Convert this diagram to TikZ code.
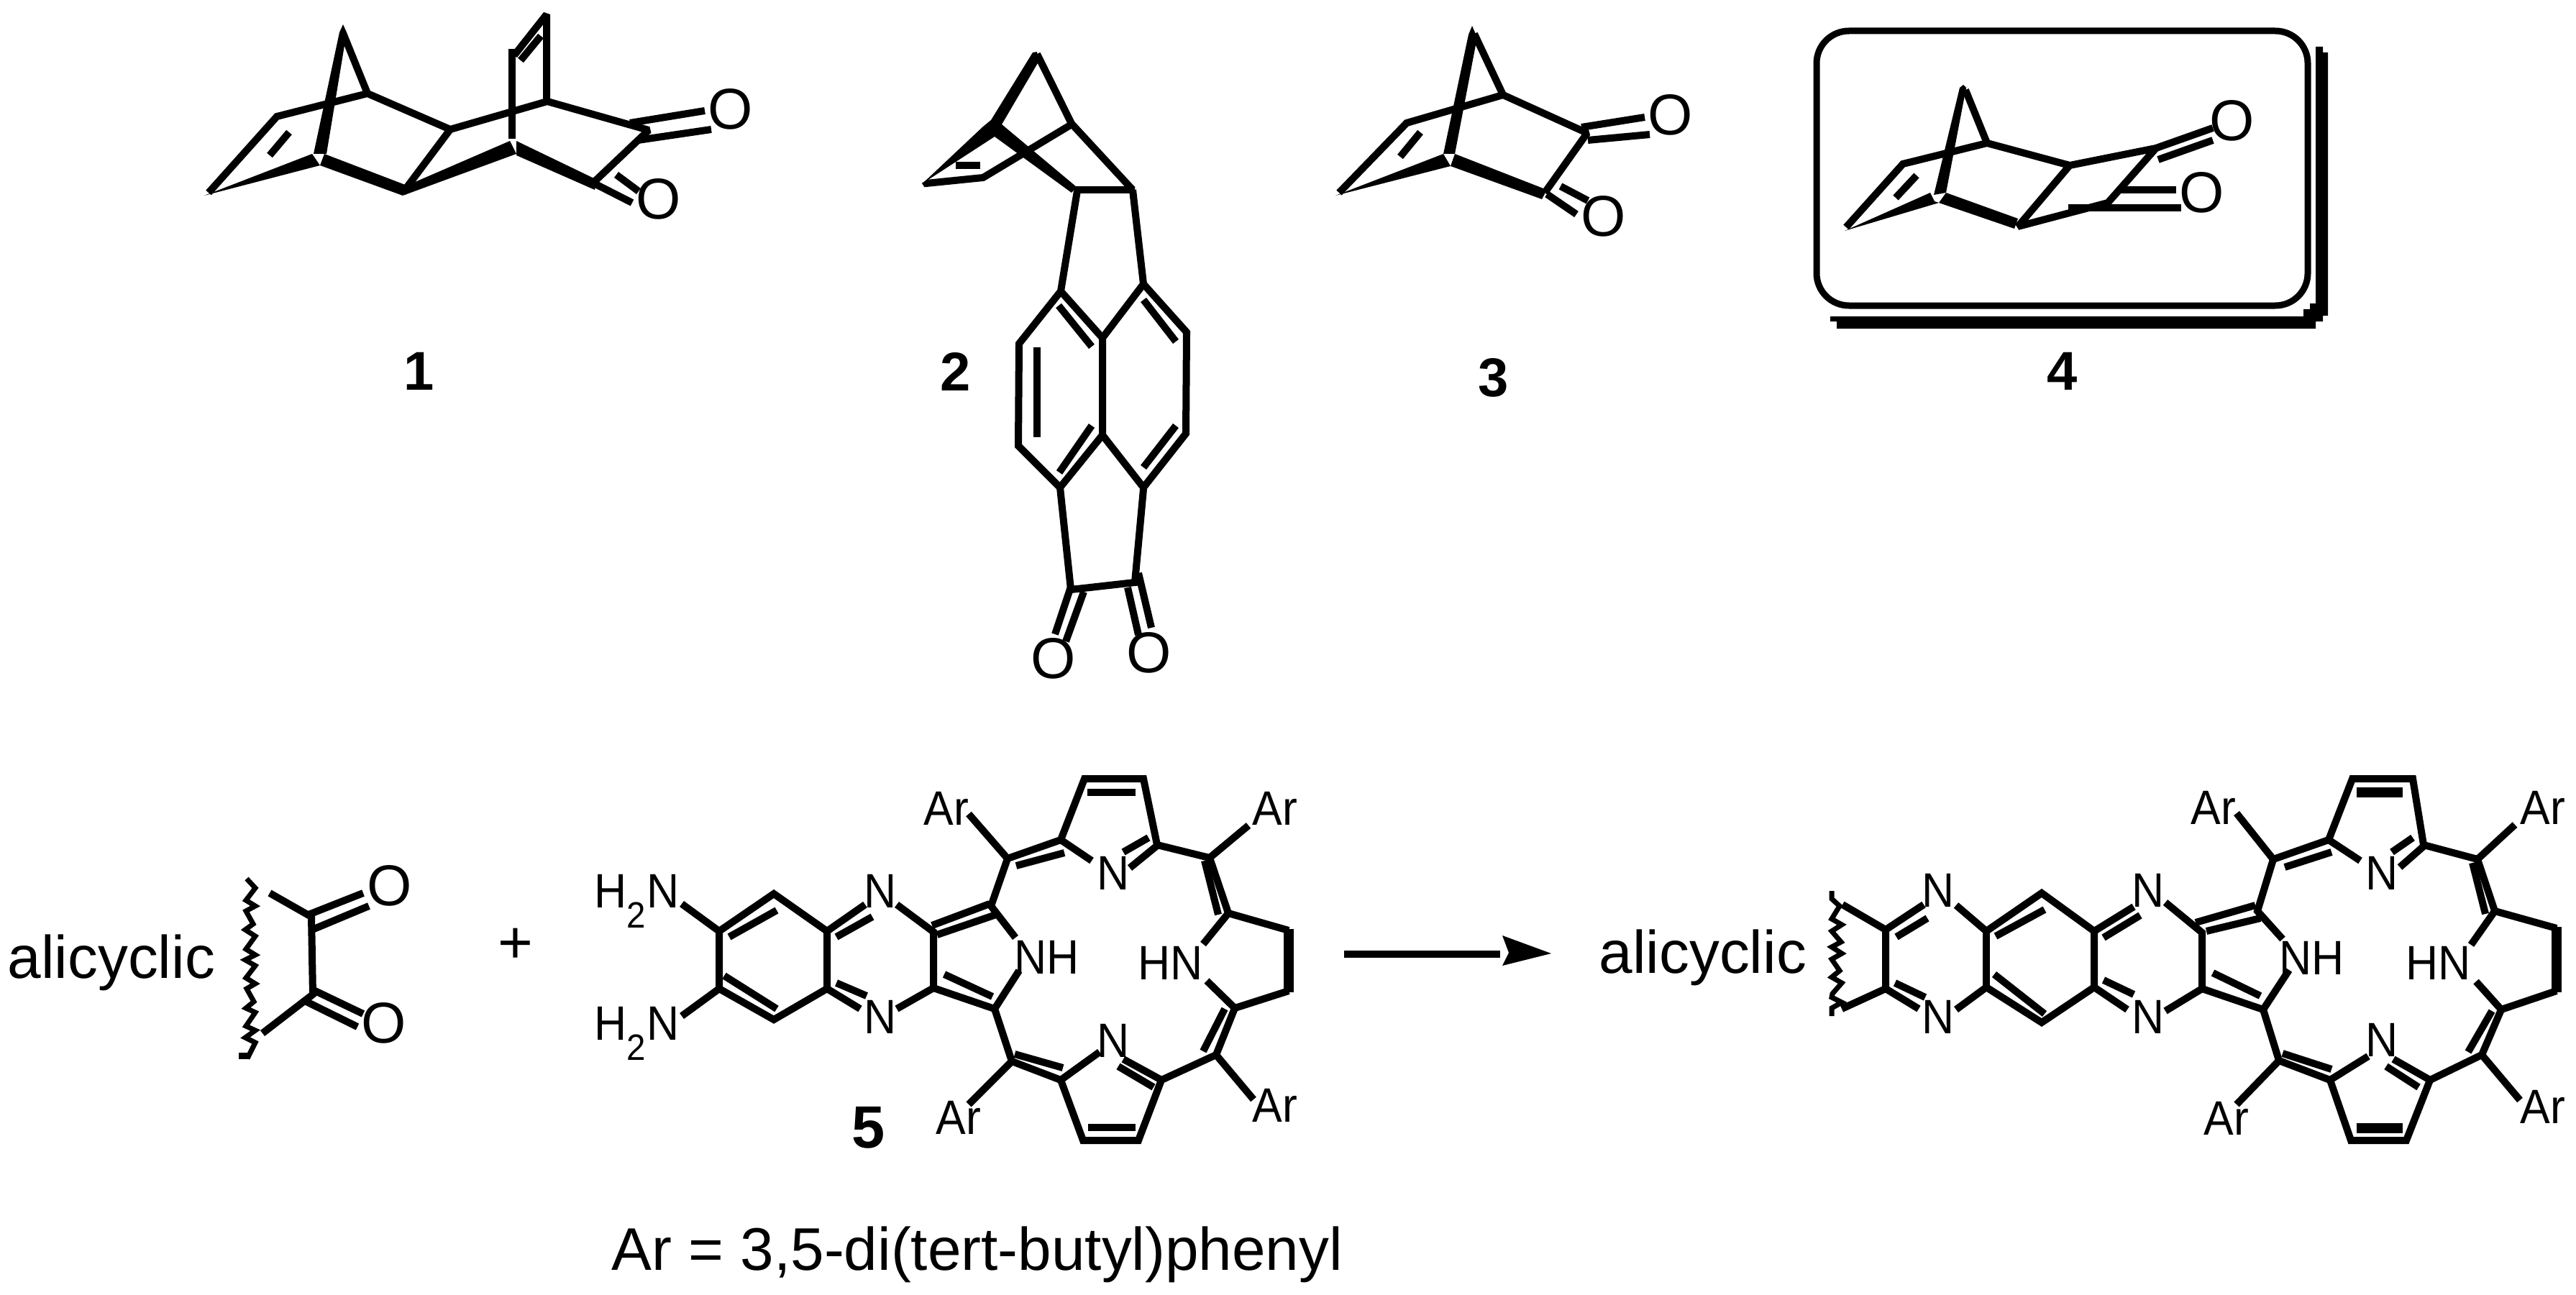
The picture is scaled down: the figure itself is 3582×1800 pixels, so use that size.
\documentclass[tikz,border=0pt]{standalone}
\usepackage{fontspec}
\setmainfont{Liberation Sans}
\newfontfamily\atomfont[FakeStretch=0.93]{Liberation Sans}
\tikzset{
  bond/.style={draw=black,line width=0.1cm,line cap=butt,line join=miter,miter limit=1.5},
  fat/.style={bond,line width=0.14cm},
  wave/.style={draw=black,line width=0.07cm,line join=miter,miter limit=3},
  wedge/.style={fill=black,draw=none},
  atomO/.style={inner sep=0pt,font=\fontsize{22.8pt}{24pt}\selectfont},
  atom/.style={inner sep=0pt,font=\atomfont\fontsize{19.1pt}{20pt}\selectfont},
  word/.style={inner sep=0pt,font=\fontsize{23.8pt}{25pt}\selectfont},
  num/.style={inner sep=0pt,font=\fontsize{21.6pt}{24pt}\selectfont\bfseries},
}
\newcommand{\Hsub}{H\raisebox{-8pt}{\fontsize{14.5pt}{15pt}\selectfont 2}\kern0.5ptN}
\begin{document}
\begin{tikzpicture}[x=0.01cm,y=-0.01cm]
\useasboundingbox (0,0) rectangle (3582,1800);
% ---------- compound 1
\fill[wedge] (284,272)--(434,214)--(445,230)--cycle;
\fill[wedge] (451,214)--(445,230)--(560,272)--(566,258)--cycle;
\fill[wedge] (568,257)--(709,196)--(718,214)--(560,272)--cycle;
\fill[wedge] (718,196)--(718,216)--(827,264)--(830,250)--cycle;
\fill[wedge] (477,34)--(472,45)--(436,214)--(454,214)--(482,45)--cycle;
\draw[bond] (290,268)--(385,162)--(511,130)--(626,180)--(761,141)--(902,181)--(824,255);
\draw[bond] (511,130)--(477,46);
\draw[bond] (560,268)--(626,180);
\draw[bond] (712,193)--(712,68);
\draw[bond] (715,77)--(760,20)--(760,141);
\draw[bond] (724,84)--(752,50);
\draw[bond] (402,184)--(375,216);
\draw[bond] (876,171)--(980,154);
\draw[bond] (887,195)--(989,180);
\draw[bond] (824,254)--(879,282);
\draw[bond] (857,243)--(888,266);
\node[atomO] (o1a) at (1016,152) {O};
\node[atomO] (o1b) at (916,277) {O};
\node[num] (n1) at (583,516) {1};
% ---------- compound 2
\fill[wedge] (1442,72)--(1436,73)--(1378,167)--(1367,176)--(1283,255)--(1383,190)--(1490,268)--(1497,260)--(1393,173)--(1444,86)--cycle;
\draw[bond] (1442,75)--(1490,172)--(1575,264);
\draw[bond] (1286,252)--(1288,255)--(1367,247)--(1490,173);
\draw[bond] (1329,230)--(1363,230);
\draw[bond] (1493,264)--(1578,264);
\draw[bond] (1498,265)--(1475,405)--(1417,478)--(1416,620)--(1474,678)--(1533,605)--(1533,470)--(1475,405);
\draw[bond] (1575,264)--(1590,395)--(1533,470);
\draw[bond] (1590,395)--(1650,462)--(1649,603)--(1590,678)--(1533,605);
\draw[bond] (1472,425)--(1518,482);
\draw[bond] (1590,417)--(1635,475);
\draw[bond] (1442,483)--(1442,608);
\draw[bond] (1518,592)--(1473,657);
\draw[bond] (1635,592)--(1590,650);
\draw[bond] (1474,678)--(1489,820)--(1578,810)--(1590,680);
\draw[bond] (1490,813)--(1467,882);
\draw[bond] (1507,823)--(1482,892);
\draw[bond] (1568,817)--(1583,883);
\draw[bond] (1583,797)--(1601,873);
\node[atomO] (o2a) at (1465,916) {O};
\node[atomO] (o2b) at (1598,908) {O};
\node[num] (n2) at (1329,517) {2};
% ---------- compound 3
\fill[wedge] (1857,272)--(2007,214)--(2017,231)--cycle;
\fill[wedge] (2023,214)--(2017,231)--(2144,277)--(2151,264)--cycle;
\fill[wedge] (2047,36)--(2042,48)--(2007,214)--(2023,214)--(2054,52)--cycle;
\draw[bond] (1862,268)--(1956,171)--(2090,132)--(2207,185)--(2148,268);
\draw[bond] (2090,132)--(2050,47);
\draw[bond] (1975,184)--(1947,218);
\draw[bond] (2199,177)--(2287,163);
\draw[bond] (2208,195)--(2294,187);
\draw[bond] (2151,270)--(2192,298);
\draw[bond] (2170,259)--(2208,279);
\node[atomO] (o3a) at (2323,160) {O};
\node[atomO] (o3b) at (2230,301) {O};
\node[num] (n3) at (2077,525) {3};
% ---------- compound 4
\fill[black] (2545,440)--(3203,440)--(3203,430)--(3212,430)--(3212,422)--(3220,422)--(3220,65)--(3230,65)--(3230,73)--(3237,73)--(3237,439)--(3230,439)--(3230,447)--(3220,447)--(3220,457)--(2554,457)--(2554,447)--(2545,447)--cycle;
\draw[line width=0.09cm,rounded corners=0.45cm] (2526,43) rectangle (3209,425);
\fill[wedge] (2565,321)--(2684,268)--(2690,280)--(2696,282)--cycle;
\fill[wedge] (2706,268)--(2696,282)--(2801,318)--(2806,304)--cycle;
\fill[wedge] (2730,118)--(2725,122)--(2689,271)--(2706,268)--(2734,122)--cycle;
\draw[bond] (2567,316)--(2646,228)--(2763,199)--(2878,230)--(2998,206)--(2931,282)--(2806,315)--(2878,230);
\draw[bond] (2763,199)--(2733,125);
\draw[bond] (2665,244)--(2636,275);
\draw[bond] (2998,206)--(3077,178);
\draw[bond] (3001,222)--(3077,195);
\draw[bond] (2945,264)--(3026,264);
\draw[bond] (2876,289)--(3033,289);
\node[atomO] (o4a) at (3104,168) {O};
\node[atomO] (o4b) at (3062,268) {O};
\node[num] (n4) at (2868,516) {4};
% ---------- diketone
\node[word,anchor=base west] (alicA) at (10,1360) {alicyclic};
\draw[wave] (343,1222)--(355,1235)--(342,1252)--(355,1260)--(342,1267)--(352,1285)--(341,1293)--(355,1302)--(342,1320)--(355,1328)--(341,1335)--(355,1343)--(342,1360)--(355,1368)--(343,1375)--(353,1393)--(342,1402)--(355,1408)--(342,1427)--(355,1433)--(341,1443)--(355,1450)--(344,1472);
\fill (332,1464) rectangle (345,1473);
\draw[bond] (375,1242)--(433,1275)--(435,1383)--(365,1437);
\draw[bond] (429,1272)--(505,1242);
\draw[bond] (434,1293)--(513,1260);
\draw[bond] (436,1377)--(505,1410);
\draw[bond] (426,1393)--(497,1428);
\node[atomO] (o5a) at (542,1232) {O};
\node[atomO] (o5b) at (534,1423) {O};
\node[word] (plus) at (717,1315) {+};
% ---------- compound 5 (reactant)
\draw[bond] (1000,1295)--(1076,1243)--(1150,1295)--(1150,1375)--(1076,1418)--(1000,1375)--cycle;
\draw[bond] (1014,1303)--(1080,1266);
\draw[bond] (1007,1357)--(1080,1403);
\draw[bond] (948,1257)--(1000,1295);
\draw[bond] (948,1413)--(1000,1375);
\node[atom,anchor=base west] (h2a) at (826,1262) {\Hsub};
\node[atom,anchor=base west] (h2b) at (826,1446) {\Hsub};
\node[atom,anchor=base] (na) at (1224,1262) {N};
\node[atom,anchor=base] (nb) at (1224,1437) {N};
\draw[bond] (1150,1295)--(1203,1258);
\draw[bond] (1163,1303)--(1213,1275);
\draw[bond] (1150,1375)--(1196,1403);
\draw[bond] (1163,1367)--(1205,1385);
\draw[bond] (1247,1258)--(1298,1296)--(1298,1374)--(1247,1403);
\draw[bond] (1296,1287)--(1376,1257);
\draw[bond] (1303,1300)--(1385,1272);
\draw[bond] (1412,1304)--(1378,1260)--(1401,1194)--(1475,1168)--(1508,1083)--(1590,1083)--(1609,1175)--(1682,1193)--(1708,1270)--(1792,1294);
\draw[bond] (1298,1374)--(1383,1403)--(1417,1350);
\draw[bond] (1313,1355)--(1380,1386);
\node[atom,anchor=base west] (nha) at (1410,1354) {NH};
\draw[bond] (1401,1194)--(1347,1132);
\node[atom,anchor=base west] (ara) at (1284,1147) {Ar};
\draw[bond] (1413,1204)--(1480,1186);
\draw[bond] (1512,1102)--(1579,1102);
\draw[bond] (1475,1168)--(1518,1197);
\node[atom,anchor=base] (nc) at (1548,1237) {N};
\draw[bond] (1562,1185)--(1597,1165);
\draw[bond] (1571,1207)--(1609,1176);
\draw[bond] (1682,1193)--(1736,1148);
\node[atom,anchor=base west] (arb) at (1741,1147) {Ar};
\draw[bond] (1675,1197)--(1694,1272);
\draw[fat] (1792,1292)--(1792,1380);
\draw[bond] (1708,1270)--(1673,1313);
\node[atom,anchor=base west] (hna) at (1582,1362) {HN};
\draw[bond] (1678,1364)--(1717,1402)--(1792,1378);
\draw[bond] (1717,1402)--(1691,1467)--(1615,1502)--(1583,1586)--(1506,1586)--(1475,1502)--(1407,1476)--(1383,1403);
\draw[bond] (1673,1462)--(1703,1403);
\draw[bond] (1691,1467)--(1743,1529);
\node[atom,anchor=base west] (arc) at (1741,1560) {Ar};
\draw[bond] (1615,1502)--(1562,1473);
\draw[bond] (1604,1512)--(1555,1483);
\node[atom,anchor=base] (nd) at (1548,1470) {N};
\draw[bond] (1529,1463)--(1475,1502);
\draw[bond] (1513,1568)--(1579,1568);
\draw[bond] (1411,1466)--(1478,1485);
\draw[bond] (1407,1476)--(1347,1536);
\node[atom,anchor=base west] (ard) at (1301,1577) {Ar};
\node[num,font=\fontsize{23.6pt}{25pt}\selectfont\bfseries] (n5) at (1208,1568) {5};
\node[word,anchor=base west] (note) at (850,1766) {Ar = 3,5-di(tert-butyl)phenyl};
% ---------- arrow
\coordinate (arS) at (1869,1327);
\coordinate (arE) at (2086,1327);
\draw[bond] (arS)--(arE);
\fill (2089,1301)--(2157,1326)--(2089,1343)--(2098,1325)--cycle;
% ---------- product
\node[word,anchor=base west] (alicB) at (2223,1353) {alicyclic};
\draw[wave] (2547,1239)--(2547,1250)--(2558,1260)--(2547,1278)--(2561,1286)--(2547,1295)--(2560,1310)--(2547,1317)--(2561,1326)--(2547,1334)--(2558,1350)--(2547,1359)--(2561,1367)--(2548,1382)--(2547,1387)--(2561,1394)--(2547,1402)--(2547,1413);
\draw[bond] (2562,1258)--(2622,1293)--(2622,1375)--(2561,1403);
\draw[bond] (2622,1293)--(2675,1258);
\draw[bond] (2637,1303)--(2680,1277);
\draw[bond] (2622,1375)--(2668,1403);
\draw[bond] (2635,1367)--(2677,1387);
\node[atom,anchor=base] (ne) at (2695,1261) {N};
\node[atom,anchor=base] (nf) at (2695,1437) {N};
\draw[bond] (2720,1259)--(2762,1295)--(2839,1242)--(2912,1295)--(2912,1373)--(2839,1422)--(2762,1373)--(2720,1404);
\draw[bond] (2762,1295)--(2762,1373);
\draw[bond] (2775,1302)--(2843,1265);
\draw[bond] (2773,1355)--(2843,1410);
\draw[bond] (2912,1295)--(2967,1261);
\draw[bond] (2925,1304)--(2976,1273);
\draw[bond] (2912,1373)--(2958,1404);
\draw[bond] (2925,1363)--(2967,1383);
\node[atom,anchor=base] (ng) at (2987,1261) {N};
\node[atom,anchor=base] (nh) at (2987,1437) {N};
\draw[bond] (3011,1255)--(3062,1297)--(3062,1375)--(3011,1406);
\draw[bond] (3053,1283)--(3136,1259);
\draw[bond] (3068,1295)--(3143,1277);
\draw[bond] (3174,1306)--(3139,1267)--(3161,1195)--(3238,1168)--(3271,1083)--(3355,1083)--(3370,1175)--(3445,1195)--(3469,1267)--(3555,1291);
\draw[bond] (3062,1375)--(3147,1404)--(3183,1349);
\draw[bond] (3077,1353)--(3143,1385);
\node[atom,anchor=base west] (nhb) at (3169,1355) {NH};
\draw[bond] (3161,1195)--(3110,1131);
\node[atom,anchor=base west] (are) at (3046,1146) {Ar};
\draw[bond] (3177,1206)--(3242,1185);
\draw[fat] (3277,1102)--(3341,1102);
\draw[bond] (3238,1168)--(3282,1197);
\node[atom,anchor=base] (ni) at (3312,1237) {N};
\draw[bond] (3337,1206)--(3370,1177);
\draw[bond] (3326,1185)--(3355,1165);
\draw[bond] (3445,1195)--(3497,1147);
\node[atom,anchor=base west] (arf) at (3504,1146) {Ar};
\draw[bond] (3438,1200)--(3456,1271);
\draw[fat] (3555,1289)--(3555,1380);
\draw[bond] (3469,1267)--(3436,1314);
\node[atom,anchor=base west] (hnb) at (3345,1362) {HN};
\draw[bond] (3443,1365)--(3478,1404)--(3555,1378);
\draw[bond] (3478,1404)--(3451,1467)--(3379,1502)--(3346,1586)--(3269,1586)--(3240,1502)--(3169,1475)--(3147,1404);
\draw[bond] (3432,1463)--(3465,1406);
\draw[bond] (3451,1467)--(3504,1530);
\node[atom,anchor=base west] (arg) at (3504,1562) {Ar};
\draw[bond] (3379,1502)--(3328,1473);
\draw[bond] (3363,1512)--(3318,1483);
\node[atom,anchor=base] (nj) at (3312,1469) {N};
\draw[bond] (3293,1469)--(3240,1502);
\draw[fat] (3277,1569)--(3341,1569);
\draw[bond] (3174,1465)--(3242,1487);
\draw[bond] (3169,1475)--(3110,1536);
\node[atom,anchor=base west] (arh) at (3064,1578) {Ar};
\end{tikzpicture}
\end{document}
